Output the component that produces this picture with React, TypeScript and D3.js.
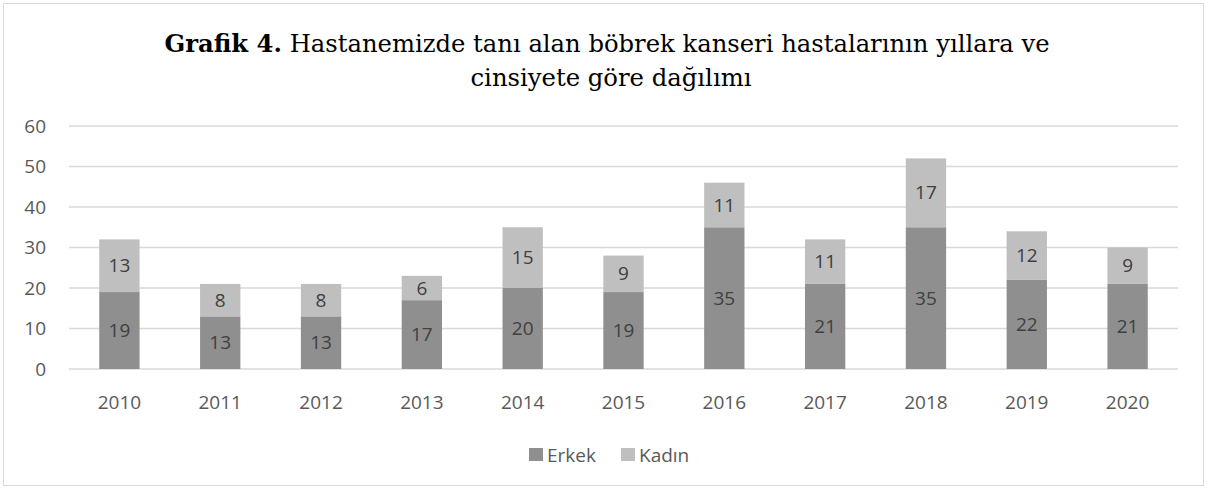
import React from "react";
import * as d3 from "d3";

const years = ["2010","2011","2012","2013","2014","2015","2016","2017","2018","2019","2020"];
const erkek = [19,13,13,17,20,19,35,21,35,22,21];
const kadin = [13,8,8,6,15,9,11,11,17,12,9];
const yTicks = [0,10,20,30,40,50,60];
const seriesNames = ["Erkek","Kadın"];
const seriesColors = ["#8f8f8f","#bfbfbf"];

const W = 1210, H = 488;

export default function App() {
  const x = d3.scaleBand().domain(years).range([69, 1178]).paddingInner(0.6).paddingOuter(0.3);
  const y = d3.scaleLinear().domain([0, 60]).range([369, 126]);
  const rows = years.map((yr, i) => ({ year: yr, Erkek: erkek[i], "Kadın": kadin[i] }));
  const stacked = d3.stack<any>().keys(seriesNames)(rows);
  const font = "'Open Sans', 'Liberation Sans', Arial, sans-serif";
  const serif = "'DejaVu Serif', 'Liberation Serif', serif";
  return (
    <svg width={W} height={H} style={{ position: "absolute", left: 0, top: 0, background: "#fff" }}>
      <rect x={3.5} y={3.5} width={1200} height={482} fill="#fff" stroke="#d9d9d9" strokeWidth={1} />
      <text x={607} y={52} textAnchor="middle" fontFamily={serif} fontSize={25} fill="#000" textLength={885} lengthAdjust="spacingAndGlyphs">
        <tspan fontWeight="bold">Grafik 4.</tspan> Hastanemizde tanı alan böbrek kanseri hastalarının yıllara ve
      </text>
      <text x={611} y={86} textAnchor="middle" fontFamily={serif} fontSize={25} fill="#000" textLength={281} lengthAdjust="spacingAndGlyphs">
        cinsiyete göre dağılımı
      </text>
      {yTicks.map(t => (
        <g key={t}>
          <line x1={69} x2={1178} y1={y(t)} y2={y(t)} stroke="#d9d9d9" strokeWidth={1.5} />
          <text x={46} y={y(t)} dy="0.35em" textAnchor="end" fontFamily={font} fontSize={19} fill="#595959">{t}</text>
        </g>
      ))}
      {stacked.map((s, si) => (
        <g key={s.key}>
          {s.map((d, i) => {
            const bx = x(years[i])!;
            const y0 = y(d[0]), y1 = y(d[1]);
            return (
              <g key={i}>
                <rect x={bx} y={y1} width={x.bandwidth()} height={y0 - y1} fill={seriesColors[si]} />
                <text x={bx + x.bandwidth() / 2} y={(y0 + y1) / 2} dy="0.35em" textAnchor="middle" fontFamily={font} fontSize={19} fill="#404040">
                  {d[1] - d[0]}
                </text>
              </g>
            );
          })}
        </g>
      ))}
      {years.map(yr => (
        <text key={yr} x={x(yr)! + x.bandwidth() / 2} y={402} dy="0.35em" textAnchor="middle" fontFamily={font} fontSize={19} fill="#595959">{yr}</text>
      ))}
      {seriesNames.map((n, i) => {
        const lx = [529, 621][i];
        return (
          <g key={n}>
            <rect x={lx} y={448} width={14} height={13} fill={seriesColors[i]} />
            <text x={lx + 18} y={455} dy="0.35em" fontFamily={font} fontSize={19} fill="#595959">{n}</text>
          </g>
        );
      })}
    </svg>
  );
}
